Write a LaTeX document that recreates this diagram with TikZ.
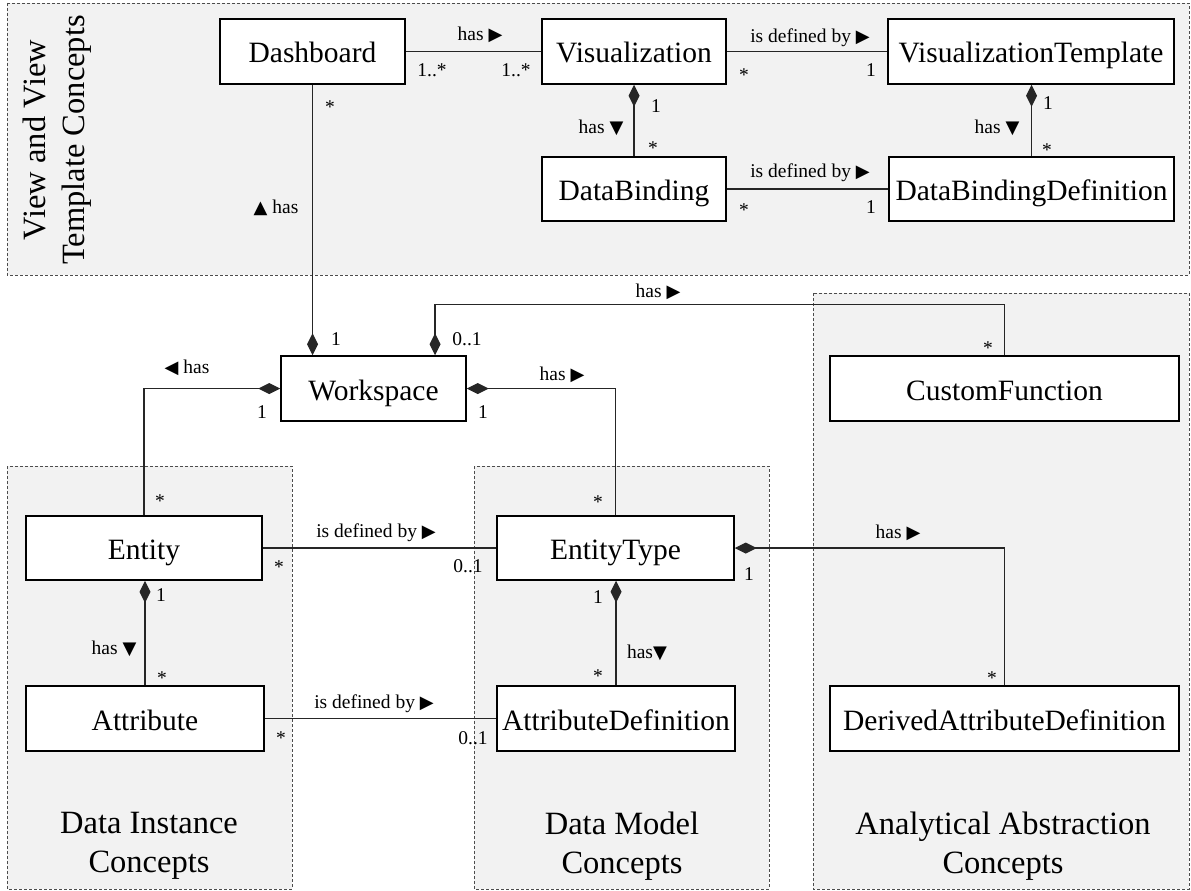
\documentclass[tikz,border=0pt]{standalone}
\usepackage{fontspec}
\setmainfont{Liberation Serif}
\newfontfamily\symfont{DejaVu Sans}
\usetikzlibrary{arrows.meta,calc}

% direction marks used in association labels
\newcommand\rtri{{\symfont\fontsize{18}{18}\selectfont ▶}}
\newcommand\ltri{{\symfont\fontsize{18}{18}\selectfont ◀}}
\newcommand\utri{{\symfont\fontsize{18}{18}\selectfont ▲}}
\newcommand\dtri{{\symfont\fontsize{18}{18}\selectfont ▼}}

\tikzset{
  cls/.style={draw=black, line width=1.5pt, fill=white, minimum height=65pt,
    inner sep=0pt, text height=24pt, text depth=1pt,
    font=\fontsize{29.5}{33}\selectfont},
  group/.style={draw=black!70, dash pattern=on 3pt off 2pt, line width=0.9pt, fill=black!5},
  assoc/.style={line width=1.2pt, draw=black!85},
  comp/.style={assoc, -{Diamond[length=22pt,width=11pt]}},
  lbl/.style={font=\fontsize{19.5}{22}\selectfont, inner sep=0pt},
  mult/.style={font=\fontsize{19.5}{22}\selectfont, inner sep=0pt},
  star/.style={mult, yshift=-3pt},
  grouptitle/.style={font=\fontsize{32.5}{39}\selectfont, align=center, inner sep=0pt},
}

\begin{document}
\begin{tikzpicture}[x=1pt,y=-1pt]
\useasboundingbox (0,0) rectangle (1191,891);

% concept groups
\path[group] (7,3) rectangle (1189,275);
\path[group] (7,466) rectangle (292,889);
\path[group] (474,466) rectangle (769,889);
\path[group] (813,293) rectangle (1189,889);

\node[grouptitle, rotate=90] (gview) at (57,140) {View and View\\Template Concepts};
\node[grouptitle] (ginst) at (149,846) {Data Instance\\Concepts};
\node[grouptitle] (gmodel) at (622,846) {Data Model\\Concepts};
\node[grouptitle] (gana) at (1003,846) {Analytical Abstraction\\Concepts};

% classes
\node[cls, minimum width=185pt] (dash) at (312.5,51.5) {Dashboard};
\node[cls, minimum width=184pt] (vis) at (634,51.5) {Visualization};
\node[cls, minimum width=286pt] (vtpl) at (1031,51.5) {VisualizationTemplate};
\node[cls, minimum width=184pt, minimum height=64pt] (bind) at (634,189) {DataBinding};
\node[cls, minimum width=285pt, minimum height=64pt] (bdef) at (1031.5,189) {DataBindingDefinition};
\node[cls, minimum width=185pt] (ws) at (373.5,388.5) {Workspace};
\node[cls, minimum width=349pt] (cf) at (1004.5,388.5) {CustomFunction};
\node[cls, minimum width=236pt, minimum height=64pt] (ent) at (144,548) {Entity};
\node[cls, minimum width=237pt, minimum height=64pt] (etype) at (615.5,548) {EntityType};
\node[cls, minimum width=238pt] (attr) at (145,718.5) {Attribute};
\node[cls, minimum width=238pt] (adef) at (616,718.5) {AttributeDefinition};
\node[cls, minimum width=349pt] (dad) at (1004.5,718.5) {DerivedAttributeDefinition};

% associations
\draw[assoc] (dash.east) -- (vis.west);
\draw[assoc] (vis.east) -- (vtpl.west);
\draw[assoc] (bind.east) -- (bdef.west);
\draw[assoc] (ent.east) -- (etype.west);
\draw[assoc] (attr.east) -- (adef.west);

% compositions
\draw[comp] (bind.north) -- (vis.south);
\draw[comp] (bdef.north) -- (bdef.north |- vtpl.south);
\draw[comp] (dash.south) -- (dash.south |- ws.north);
\coordinate (wsfn) at ($(ws.north)+(61.5,0)$);
\draw[comp] (cf.north) -- ++(0,-51) -| (wsfn);
\draw[comp] (ent.north) |- (ws.west);
\draw[comp] (etype.north) |- (ws.east);
\draw[comp] (dad.north) |- (etype.east);
\draw[comp] (attr.north) -- (attr.north |- ent.south);
\draw[comp] (adef.north) -- (adef.north |- etype.south);

% labels and multiplicities
\node[lbl] (l1) at (480,35) {has \rtri};
\node[mult] (m1) at (432,70) {1..*};
\node[mult] (m2) at (516,70) {1..*};
\node[lbl] (l2) at (810,38) {is defined by \rtri};
\node[star] (m3) at (744,72) {*};
\node[mult] (m4) at (871,70) {1};
\node[mult] (m5) at (656,106) {1};
\node[lbl] (l3) at (601,128) {has \dtri};
\node[star] (m6) at (653,145) {*};
\node[mult] (m7) at (1048,103) {1};
\node[lbl] (l4) at (997,128) {has \dtri};
\node[star] (m8) at (1047,147) {*};
\node[lbl] (l5) at (810,173) {is defined by \rtri};
\node[star] (m9) at (744,207) {*};
\node[mult] (m10) at (871,207) {1};
\node[star] (m11) at (330,104) {*};
\node[lbl] (l6) at (276,208) {\utri\ has};
\node[mult] (m12) at (336,339) {1};
\node[mult] (m13) at (467,339) {0..1};
\node[lbl] (l7) at (658,292) {has \rtri};
\node[star] (m14) at (988,345) {*};
\node[lbl] (l8) at (187,368) {\ltri\ has};
\node[mult] (m15) at (262,412) {1};
\node[star] (m16) at (160,498) {*};
\node[lbl] (l9) at (562,375) {has \rtri};
\node[mult] (m17) at (483,412) {1};
\node[star] (m18) at (598,499) {*};
\node[lbl] (l10) at (376,533) {is defined by \rtri};
\node[star] (m19) at (279,564) {*};
\node[mult] (m20) at (468,566) {0..1};
\node[lbl] (l11) at (898,533) {has \rtri};
\node[mult] (m21) at (749,574) {1};
\node[star] (m22) at (992,675) {*};
\node[mult] (m23) at (161,595) {1};
\node[lbl] (l12) at (114,649) {has \dtri};
\node[star] (m24) at (162,675) {*};
\node[lbl] (l13) at (374,704) {is defined by \rtri};
\node[star] (m25) at (281,735) {*};
\node[mult] (m26) at (473,738) {0..1};
\node[mult] (m27) at (598,597) {1};
\node[lbl] (l14) at (647,653) {has\dtri};
\node[star] (m28) at (598,673) {*};
\end{tikzpicture}
\end{document}
